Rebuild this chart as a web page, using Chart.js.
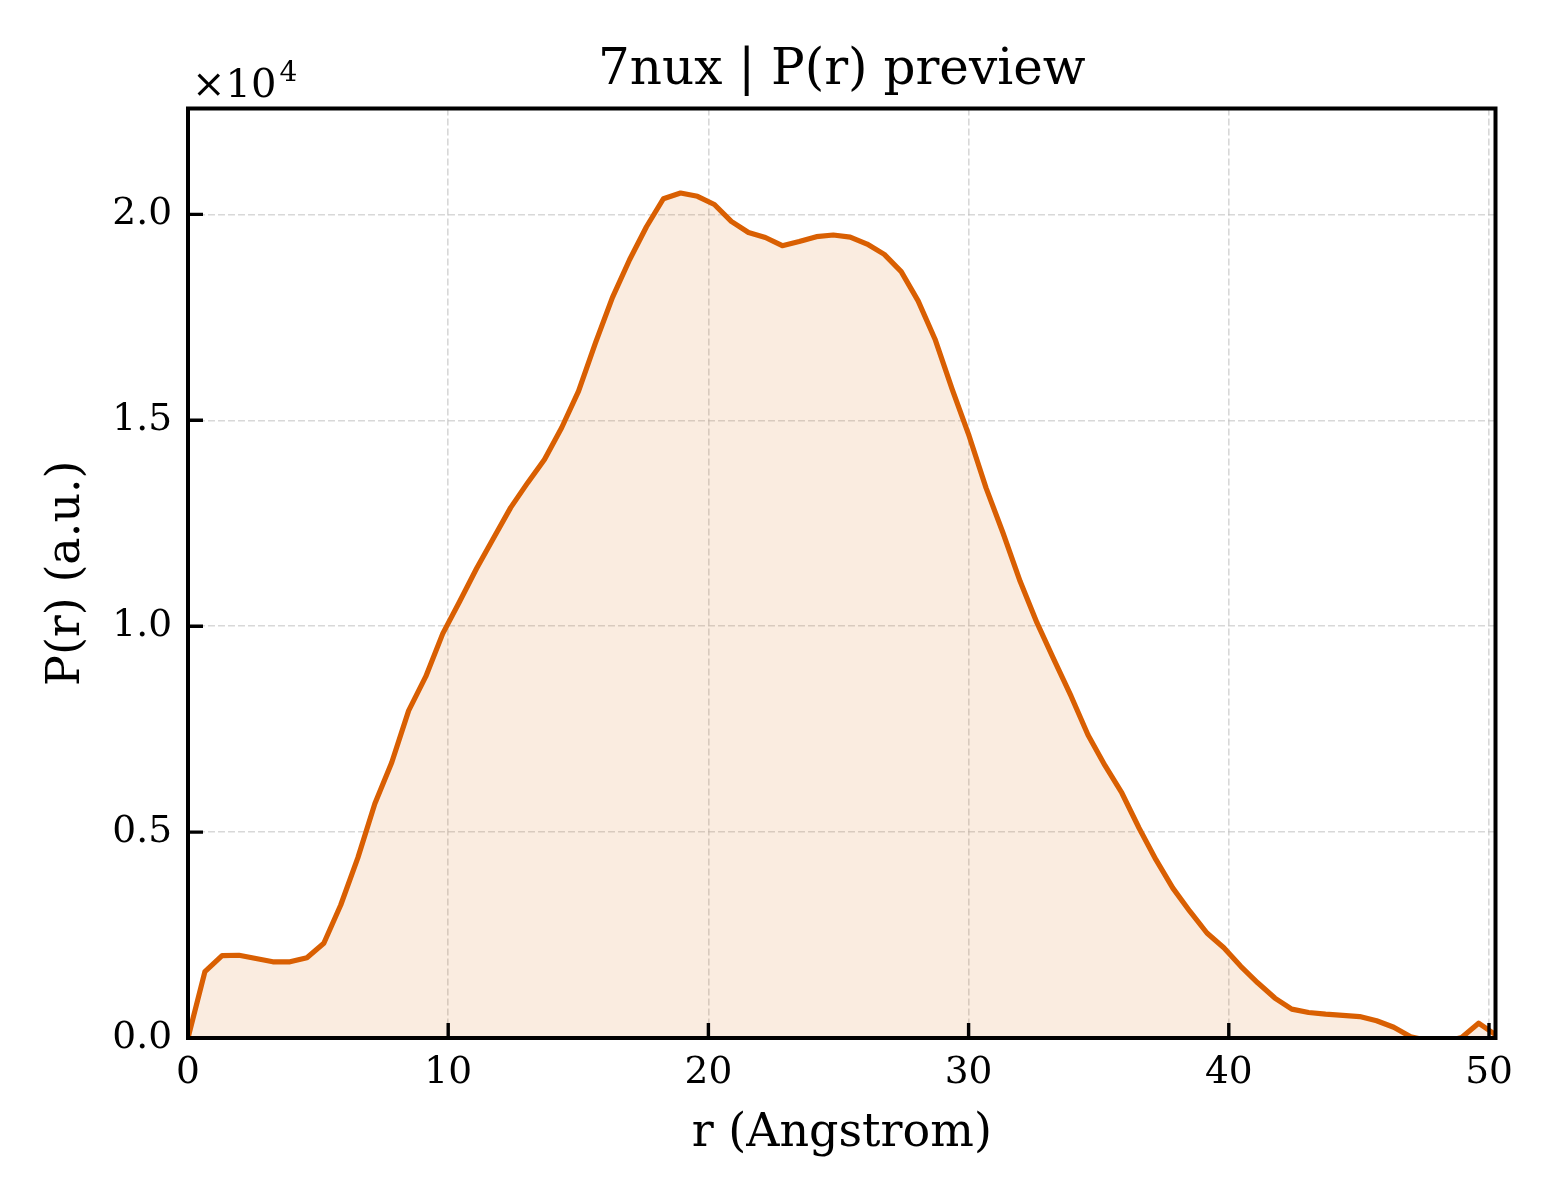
<!DOCTYPE html>
<html>
<head>
<meta charset="utf-8">
<script src="https://cdn.jsdelivr.net/npm/chart.js@4.4.1/dist/chart.umd.min.js"></script>
<style>
  html, body { margin: 0; padding: 0; background: #ffffff; }
  #wrap { width: 1560px; height: 1200px; }
</style>
</head>
<body>
<div id="wrap"><canvas id="c" width="1560" height="1200"></canvas></div>
<script>
// ---- data ----
const chartTitle = '7nux | P(r) preview';
const xAxisLabel = 'r (Angstrom)';
const yAxisLabel = 'P(r) (a.u.)';
const offsetLabel = '×10';
const offsetExponent = '4';

const rValues = [
  0.00, 0.65, 1.31, 1.96, 2.61, 3.26, 3.92, 4.57, 5.22, 5.87,
  6.53, 7.18, 7.83, 8.48, 9.14, 9.79, 10.44, 11.09, 11.75, 12.40,
  13.05, 13.70, 14.36, 15.01, 15.66, 16.31, 16.97, 17.62, 18.27, 18.93,
  19.58, 20.23, 20.88, 21.54, 22.19, 22.84, 23.49, 24.15, 24.80, 25.45,
  26.10, 26.76, 27.41, 28.06, 28.71, 29.37, 30.02, 30.67, 31.32, 31.98,
  32.63, 33.28, 33.94, 34.59, 35.24, 35.89, 36.55, 37.20, 37.85, 38.50,
  39.16, 39.81, 40.46, 41.11, 41.77, 42.42, 43.07, 43.72, 44.38, 45.03,
  45.68, 46.34, 46.99, 47.64, 48.29, 48.95, 49.60, 50.25
];

const prValues = [
  0, 1610, 2000, 2010, 1930, 1850, 1850, 1950, 2300, 3230,
  4380, 5690, 6690, 7950, 8780, 9820, 10600, 11400, 12150, 12880,
  13480, 14050, 14820, 15710, 16880, 17980, 18900, 19700, 20380, 20520,
  20440, 20240, 19830, 19560, 19440, 19240, 19340, 19460, 19500, 19450,
  19280, 19030, 18610, 17900, 16970, 15750, 14620, 13360, 12270, 11090,
  10080, 9190, 8300, 7360, 6620, 5950, 5100, 4330, 3640, 3080,
  2550, 2190, 1740, 1340, 970, 700, 620, 580, 550, 520,
  420, 260, 30, -60, -90, 12, 360, 80
];

const xTickValues = [0, 10, 20, 30, 40, 50];
const xTickLabels = ['0', '10', '20', '30', '40', '50'];
const yTickValues = [0, 5000, 10000, 15000, 20000];
const yTickLabels = ['0.0', '0.5', '1.0', '1.5', '2.0'];
const xLimit = [0, 50.25];
const yLimit = [0, 22572];

// ---- styling ----
const FONT = "'DejaVu Serif', serif";
const LINE_COLOR = '#D95F02';
const FILL_COLOR = 'rgba(217,95,2,0.12)';

const points = rValues.map((r, i) => ({ x: r, y: prValues[i] }));

const frameAndTicks = {
  id: 'frameAndTicks',
  afterDatasetsDraw(chart) {
    const { ctx, chartArea: a, scales: { x, y } } = chart;
    ctx.save();
    ctx.strokeStyle = '#000000';
    ctx.lineCap = 'butt';
    ctx.lineWidth = 3.4;
    ctx.beginPath();
    x.ticks.forEach(t => {
      const px = x.getPixelForValue(t.value);
      ctx.moveTo(px, a.bottom);
      ctx.lineTo(px, a.bottom - 15);
    });
    y.ticks.forEach(t => {
      const py = y.getPixelForValue(t.value);
      ctx.moveTo(a.left, py);
      ctx.lineTo(a.left + 15, py);
    });
    ctx.stroke();
    ctx.lineWidth = 4;
    ctx.lineJoin = 'miter';
    ctx.strokeRect(a.left, a.top, a.right - a.left, a.bottom - a.top);
    ctx.restore();
  },
  afterDraw(chart) {
    const { ctx, chartArea: a } = chart;
    ctx.save();
    ctx.fillStyle = '#000000';
    ctx.textBaseline = 'alphabetic';
    ctx.textAlign = 'left';
    ctx.font = '40px ' + FONT;
    const x0 = a.left + 4;
    ctx.fillText(offsetLabel, x0, a.top - 12);
    const w = ctx.measureText(offsetLabel).width;
    ctx.font = '28px ' + FONT;
    ctx.fillText(offsetExponent, x0 + w + 3, a.top - 28);
    ctx.restore();
  }
};

new Chart(document.getElementById('c'), {
  type: 'line',
  data: {
    datasets: [{
      data: points,
      borderColor: LINE_COLOR,
      backgroundColor: FILL_COLOR,
      borderWidth: 5.2,
      borderJoinStyle: 'round',
      borderCapStyle: 'butt',
      fill: 'origin',
      pointRadius: 0,
      pointHoverRadius: 0,
      tension: 0
    }]
  },
  options: {
    responsive: false,
    devicePixelRatio: 1,
    animation: false,
    events: [],
    layout: { padding: { left: 0, right: 64.5, top: 0, bottom: 0 } },
    plugins: {
      legend: { display: false },
      tooltip: { enabled: false },
      title: {
        display: true,
        fullSize: false,
        text: chartTitle,
        color: '#000000',
        font: { family: FONT, size: 50, weight: 'normal', lineHeight: 1.2 },
        padding: { top: 41, bottom: 7.5 }
      }
    },
    scales: {
      x: {
        type: 'linear',
        min: xLimit[0],
        max: xLimit[1],
        afterFit(scale) { scale.height = 162; },
        afterBuildTicks(scale) { scale.ticks = xTickValues.map(v => ({ value: v })); },
        ticks: {
          color: '#000000',
          font: { family: FONT, size: 37.5, lineHeight: 1.2 },
          padding: 13,
          maxRotation: 0,
          autoSkip: false,
          callback(value) { const i = xTickValues.indexOf(value); return i >= 0 ? xTickLabels[i] : ''; }
        },
        grid: { color: 'rgba(190,190,190,0.6)', lineWidth: 1.6, drawTicks: false, borderDash: [7, 3] },
        border: { display: false, dash: [7, 3] },
        title: {
          display: true,
          text: xAxisLabel,
          color: '#000000',
          font: { family: FONT, size: 46, lineHeight: 1.2 },
          padding: { top: 0, bottom: 38 }
        }
      },
      y: {
        type: 'linear',
        min: yLimit[0],
        max: yLimit[1],
        afterFit(scale) { scale.width = 188; },
        afterBuildTicks(scale) { scale.ticks = yTickValues.map(v => ({ value: v })); },
        ticks: {
          color: '#000000',
          font: { family: FONT, size: 37.5, lineHeight: 1.2 },
          padding: 16,
          autoSkip: false,
          callback(value) { const i = yTickValues.indexOf(value); return i >= 0 ? yTickLabels[i] : ''; }
        },
        grid: { color: 'rgba(190,190,190,0.6)', lineWidth: 1.6, drawTicks: false, borderDash: [7, 3] },
        border: { display: false, dash: [7, 3] },
        title: {
          display: true,
          text: yAxisLabel,
          color: '#000000',
          font: { family: FONT, size: 46, lineHeight: 1.2 },
          padding: { top: 39, bottom: 0 }
        }
      }
    }
  },
  plugins: [frameAndTicks]
});
</script>
</body>
</html>
